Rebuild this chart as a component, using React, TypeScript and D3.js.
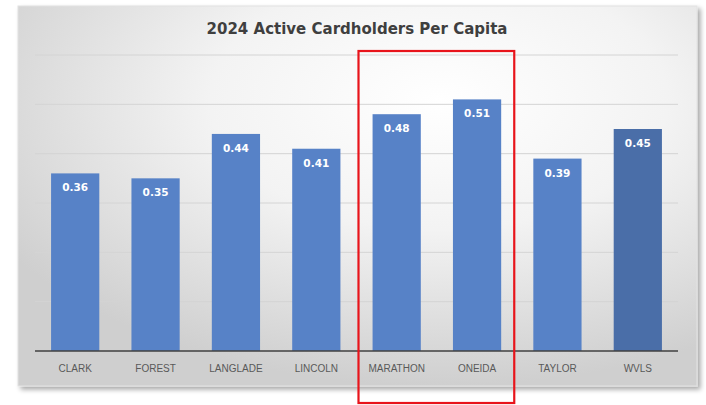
import React, { useRef, useEffect } from 'react';
import * as d3 from 'd3';

const categories = ['CLARK', 'FOREST', 'LANGLADE', 'LINCOLN', 'MARATHON', 'ONEIDA', 'TAYLOR', 'WVLS'];
const values = [0.36, 0.35, 0.44, 0.41, 0.48, 0.51, 0.39, 0.45];
const gridTicks = [0, 0.1, 0.2, 0.3, 0.4, 0.5, 0.6];
const highlighted = ['MARATHON', 'ONEIDA'];
const titleText = '2024 Active Cardholders Per Capita';

const App: React.FC = () => {
  const chartRef = useRef<SVGSVGElement | null>(null);

  useEffect(() => {
    const svg = d3.select(chartRef.current);
    svg.selectAll('*').remove();

    const width = 706;
    const height = 405;
    const panel = { left: 18, top: 6, right: 697, bottom: 386 };
    const plot = { left: 35, right: 678, top: 55, bottom: 351 };

    const defs = svg.append('defs');
    const grad = defs.append('radialGradient')
      .attr('id', 'bg')
      .attr('cx', '62%').attr('cy', '25%').attr('r', '75%');
    grad.append('stop').attr('offset', '0%').attr('stop-color', '#ffffff');
    grad.append('stop').attr('offset', '45%').attr('stop-color', '#f3f3f3');
    grad.append('stop').attr('offset', '100%').attr('stop-color', '#cfcfcf');

    const shadow = defs.append('filter').attr('id', 'shadow')
      .attr('x', '-5%').attr('y', '-5%').attr('width', '110%').attr('height', '110%');
    shadow.append('feGaussianBlur').attr('in', 'SourceAlpha').attr('stdDeviation', 2.5);
    shadow.append('feOffset').attr('dx', 3).attr('dy', 3).attr('result', 'off');
    shadow.append('feComponentTransfer').append('feFuncA').attr('type', 'linear').attr('slope', 0.35);
    const merge = shadow.append('feMerge');
    merge.append('feMergeNode');
    merge.append('feMergeNode').attr('in', 'SourceGraphic');

    svg.append('rect')
      .attr('width', width).attr('height', height).attr('fill', '#ffffff');

    svg.append('rect')
      .attr('x', panel.left).attr('y', panel.top)
      .attr('width', panel.right - panel.left).attr('height', panel.bottom - panel.top)
      .attr('fill', 'url(#bg)')
      .attr('stroke', '#e2e2e2')
      .attr('filter', 'url(#shadow)');

    svg.append('text')
      .attr('x', 357).attr('y', 34)
      .attr('text-anchor', 'middle')
      .style('font-family', 'DejaVu Sans, Verdana, sans-serif')
      .style('font-weight', 'bold')
      .style('font-size', '15px')
      .attr('fill', '#3f3f3f')
      .text(titleText);

    const x = d3.scaleBand<string>()
      .domain(categories)
      .range([plot.left, plot.right])
      .paddingInner(0.4)
      .paddingOuter(0.2);

    const y = d3.scaleLinear()
      .domain([0, 0.6])
      .range([plot.bottom, plot.top]);

    svg.append('g')
      .selectAll('line')
      .data(gridTicks.slice(1))
      .enter().append('line')
      .attr('x1', plot.left).attr('x2', plot.right)
      .attr('y1', d => y(d)).attr('y2', d => y(d))
      .attr('stroke', '#d4d4d4')
      .attr('stroke-width', 1);

    svg.append('g')
      .selectAll('rect')
      .data(values)
      .enter().append('rect')
      .attr('x', (d, i) => x(categories[i]) as number)
      .attr('y', d => y(d))
      .attr('width', x.bandwidth())
      .attr('height', d => y(0) - y(d))
      .attr('fill', (d, i) => (categories[i] === 'WVLS' ? '#4a6ea8' : '#5782c7'));

    svg.append('g')
      .selectAll('text')
      .data(values)
      .enter().append('text')
      .attr('x', (d, i) => (x(categories[i]) as number) + x.bandwidth() / 2)
      .attr('y', d => y(d) + 18)
      .attr('text-anchor', 'middle')
      .style('font-family', 'DejaVu Sans, Verdana, sans-serif')
      .style('font-weight', 'bold')
      .style('font-size', '10.5px')
      .attr('fill', '#ffffff')
      .text(d => d.toFixed(2));

    svg.append('line')
      .attr('x1', plot.left).attr('x2', plot.right)
      .attr('y1', y(0)).attr('y2', y(0))
      .attr('stroke', '#404040')
      .attr('stroke-width', 1.5);

    svg.append('g')
      .selectAll('text')
      .data(categories)
      .enter().append('text')
      .attr('x', d => (x(d) as number) + x.bandwidth() / 2)
      .attr('y', y(0) + 21)
      .attr('text-anchor', 'middle')
      .style('font-family', 'Liberation Sans, Arial, sans-serif')
      .style('font-size', '10px')
      .attr('fill', '#595959')
      .text(d => d);

    // red box around the highlighted counties
    const hx0 = (x(highlighted[0]) as number) - x.step() * x.paddingInner() / 2 + 2;
    const hx1 = (x(highlighted[highlighted.length - 1]) as number) + x.bandwidth() + x.step() * x.paddingInner() / 2 - 3;
    svg.append('rect')
      .attr('x', hx0).attr('y', y(0.6) - 4)
      .attr('width', hx1 - hx0).attr('height', height - 2 - (y(0.6) - 4))
      .attr('fill', 'none')
      .attr('stroke', '#e8141b')
      .attr('stroke-width', 2.2);
  }, []);

  return (
    <svg ref={chartRef} width={706} height={405}
      style={{ position: 'absolute', left: 0, top: 0, display: 'block' }} />
  );
};

export default App;
